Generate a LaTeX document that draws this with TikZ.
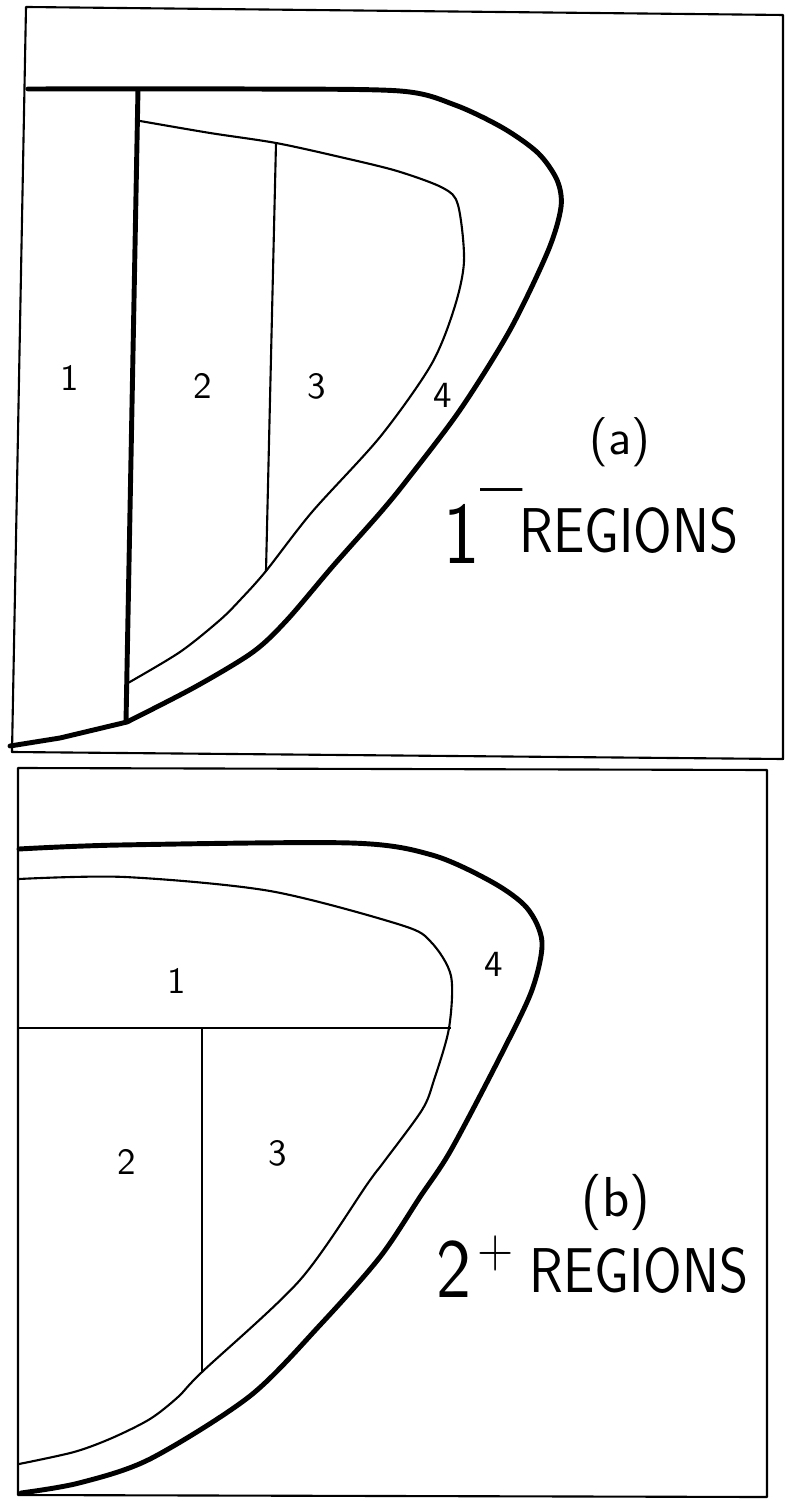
\documentclass[tikz,border=0pt]{standalone}
\usepackage{graphicx}
\usepackage{tikz}
\tikzset{
  framebox/.style={draw, line width=0.6pt, line join=round},
  outerline/.style={line width=1.4pt, line join=round, line cap=round},
  innerline/.style={line width=0.6pt, line join=round},
  divline/.style={line width=1.4pt},
  regionnum/.style={font=\sffamily\fontsize{10.5}{12}\selectfont, inner sep=0pt},
  panellbl/.style={font=\sffamily\fontsize{14}{16}\selectfont, inner sep=0pt},
  regionscap/.style={font=\sffamily\fontsize{18}{20}\selectfont, inner sep=0pt, anchor=base west},
}

\begin{document}
\begin{tikzpicture}[x=0.01cm, y=-0.01cm]
  \useasboundingbox (0,0) rectangle (787,1501);

  % panel (a)
  \draw[framebox] (26,7) -- (783,15) -- (783,759) -- (12,752) -- cycle;
  \draw[outerline] plot[smooth] coordinates {(28,89) (250,89) (400,91) (455,105) (503,128) (538,153) (557,180) (561,207) (548,251) (510,330) (460,410) (407,480) (380,513) (333,566) (287,620) (253,652) (195,687) (127,722)}
    -- (60,738) -- (10,746);
  \draw[innerline] plot[smooth] coordinates {(140,121) (210,133) (276,143) (340,157) (397,171) (443,188) (458,205) (464,261) (454,309) (431,365) (380,437) (312,512) (266,571) (241,599) (220,620) (180,652) (128,683)};
  \draw[divline] (138,89) -- (126,722);
  \draw[innerline] (276,143) -- (266,571);
  \node[regionnum] (a1) at (70,378) {1};
  \node[regionnum] (a2) at (203,386) {2};
  \node[regionnum] (a3) at (317,386) {3};
  \node[regionnum] (a4) at (443,395) {4};
  \node[panellbl] (atitle) at (620,442) {(a)};
  \node[regionscap] (acap) at (443,553) {\scalebox{0.88}[1]{\raisebox{-3pt}{\fontsize{25}{25}\selectfont 1}\raisebox{14pt}{\fontsize{14}{14}\selectfont ---}\kern-1pt REGIONS}};

  % panel (b)
  \draw[framebox] (18,768) -- (767,770) -- (767,1497) -- (18,1495) -- cycle;
  \draw[outerline] plot[smooth] coordinates {(19,849) (120,845) (351,843) (432,855) (492,882) (527,908) (542,942) (532,990) (502,1053) (451,1150) (420,1197) (380,1257) (321,1324) (250,1396) (150,1459) (79,1483) (21,1493)};
  \draw[innerline] plot[smooth] coordinates {(19,879) (125,877) (270,891) (401,925) (431,942) (451,976) (449,1028) (434,1080) (422,1110) (383,1163) (368,1183) (300,1280) (202,1372) (178,1397) (150,1419) (112,1438) (74,1452) (19,1464)};
  \draw[innerline] (18,1028) -- (451,1028);
  \draw[innerline] (202,1028) -- (202,1372);
  \node[regionnum] (b1) at (177,981) {1};
  \node[regionnum] (b2) at (127,1162) {2};
  \node[regionnum] (b3) at (278,1153) {3};
  \node[regionnum] (b4) at (494,964) {4};
  \node[panellbl, font=\sffamily\fontsize{16}{18}\selectfont] (btitle) at (616,1202) {(b)};
  \node[regionscap] (bcap) at (436,1292) {\scalebox{0.88}[1]{\raisebox{-1.5pt}{\fontsize{24}{24}\selectfont 2}\kern2pt\raisebox{7pt}{\fontsize{16}{16}\selectfont +}\kern5pt REGIONS}};
\end{tikzpicture}
\end{document}
